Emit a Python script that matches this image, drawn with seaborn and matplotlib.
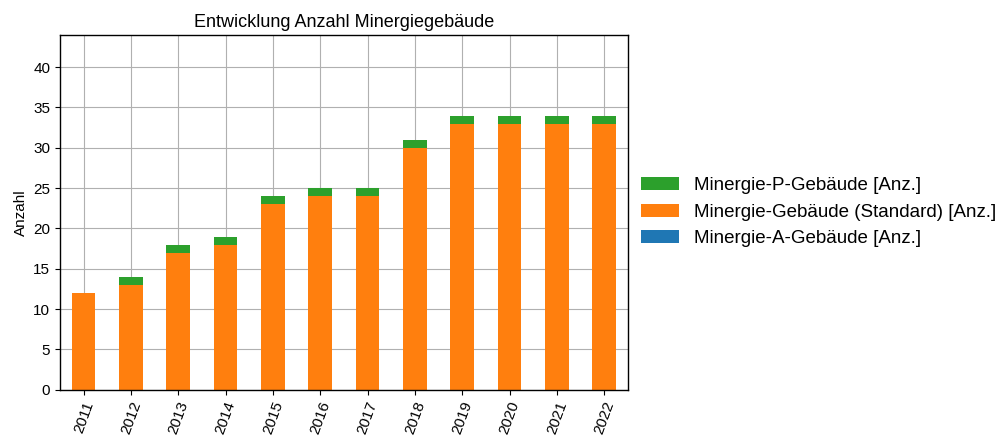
import seaborn as sns
import matplotlib.pyplot as plt
import pandas as pd

jahre = ["2011", "2012", "2013", "2014", "2015", "2016", "2017", "2018", "2019", "2020", "2021", "2022"]
minergie_a = [0, 0, 0, 0, 0, 0, 0, 0, 0, 0, 0, 0]
minergie_std = [12, 13, 17, 18, 23, 24, 24, 30, 33, 33, 33, 33]
minergie_p = [0, 1, 1, 1, 1, 1, 1, 1, 1, 1, 1, 1]

df = pd.DataFrame({"Jahr": jahre, "A": minergie_a, "Std": minergie_std, "P": minergie_p})
# kumulierte Höhen für gestapelte Balken
df["bis_std"] = df["A"] + df["Std"]
df["bis_p"] = df["bis_std"] + df["P"]

sns.set_style("ticks")
plt.rcParams["font.family"] = ["Liberation Sans", "DejaVu Sans"]
plt.rcParams["text.color"] = "black"
plt.rcParams["axes.labelcolor"] = "black"
plt.rcParams["xtick.color"] = "black"
plt.rcParams["ytick.color"] = "black"

fig, ax = plt.subplots(figsize=(10.08, 4.36), dpi=100)
fig.subplots_adjust(left=0.0595, right=0.623, top=0.92, bottom=0.106)

sns.barplot(data=df, x="Jahr", y="bis_p", color="#2ca02c", saturation=1, width=0.5,
            linewidth=0, label="Minergie-P-Gebäude [Anz.]", ax=ax)
sns.barplot(data=df, x="Jahr", y="bis_std", color="#ff7f0e", saturation=1, width=0.5,
            linewidth=0, label="Minergie-Gebäude (Standard) [Anz.]", ax=ax)
sns.barplot(data=df, x="Jahr", y="A", color="#1f77b4", saturation=1, width=0.5,
            linewidth=0, label="Minergie-A-Gebäude [Anz.]", ax=ax)

ax.set_ylim(0, 44)
ax.set_xlim(-0.5, len(jahre) - 0.5)
ax.set_yticks(range(0, 45, 5))
ax.grid(True, color="#b0b0b0", linewidth=0.8)
ax.set_axisbelow(True)
for s in ax.spines.values():
    s.set_color("black")
    s.set_linewidth(1)
ax.tick_params(axis="both", labelsize=11, colors="black", length=3.5)
plt.xticks(rotation=70)
ax.set_xlabel("")
ax.set_ylabel("Anzahl", fontsize=11)
ax.set_title("Entwicklung Anzahl Minergiegebäude", fontsize=13)

ax.legend(loc="center left", bbox_to_anchor=(1.0, 0.5), borderaxespad=0.3,
          frameon=False, fontsize=13.5)

plt.savefig("out.png", dpi=100)
